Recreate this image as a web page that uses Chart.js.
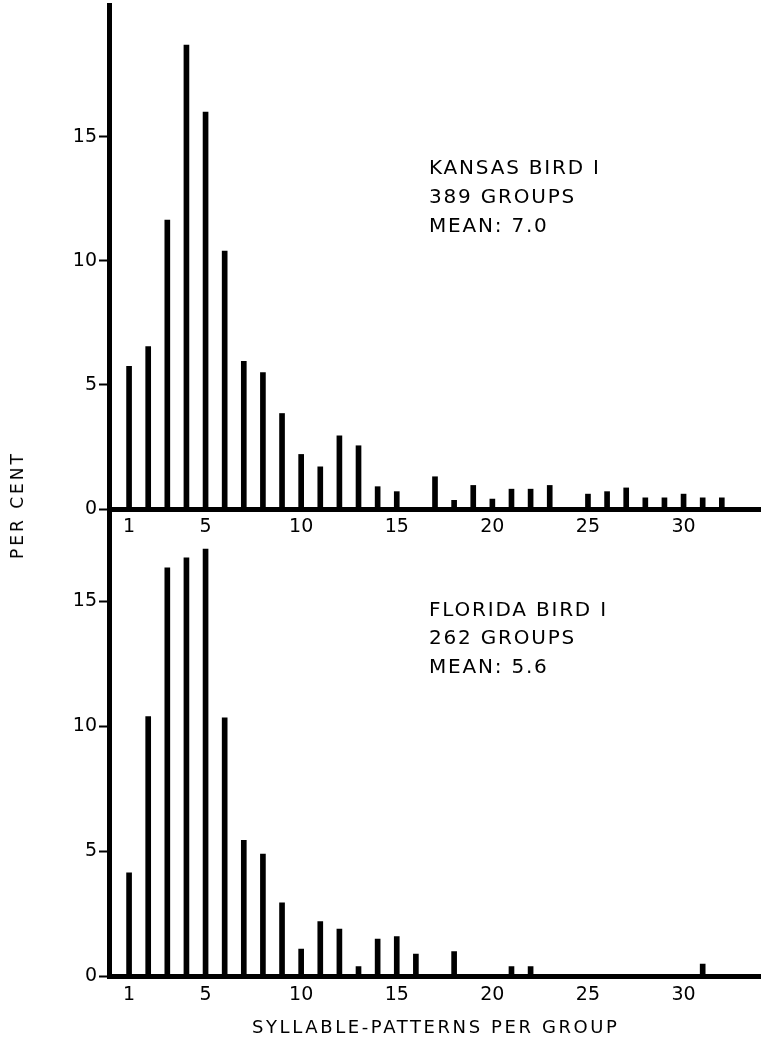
<!DOCTYPE html>
<html>
<head>
<meta charset="utf-8">
<script src="https://cdn.jsdelivr.net/npm/chart.js@4.4.0/dist/chart.umd.min.js"></script>
<style>
  html, body { margin: 0; padding: 0; background: #fff; }
  #wrap { position: relative; width: 761px; height: 1048px; overflow: hidden; }
  canvas { position: absolute; left: 0; }
  #top { top: 0; }
  #bottom { top: 510px; }
  .label { position: absolute; font-family: "DejaVu Sans"; font-size: 18px; line-height: 20px; letter-spacing: 2.6px; color: #000; white-space: nowrap; }
  #yTitle { left: 17px; top: 505px; font-size: 17px; letter-spacing: 3px; transform: translate(-50%, -50%) rotate(-90deg); }
  #xTitle { left: 252px; top: 1017px; }
</style>
</head>
<body>
<div id="wrap">
  <canvas id="top" width="761" height="545"></canvas>
  <canvas id="bottom" width="761" height="538"></canvas>
  <div class="label" id="yTitle">PER CENT</div>
  <div class="label" id="xTitle">SYLLABLE-PATTERNS PER GROUP</div>
</div>
<script>
// syllable-patterns per group (x) and per cent of groups (y)
const kansasPatterns = [1, 2, 3, 4, 5, 6, 7, 8, 9, 10, 11, 12, 13, 14, 15, 17, 18, 19, 20, 21, 22, 23, 25, 26, 27, 28, 29, 30, 31, 32];
const kansasPercent = [5.75, 6.55, 11.65, 18.7, 16.0, 10.4, 5.95, 5.5, 3.85, 2.2, 1.7, 2.95, 2.55, 0.9, 0.7, 1.3, 0.35, 0.95, 0.4, 0.8, 0.8, 0.95, 0.6, 0.7, 0.85, 0.45, 0.45, 0.6, 0.45, 0.45];

const floridaPatterns = [1, 2, 3, 4, 5, 6, 7, 8, 9, 10, 11, 12, 13, 14, 15, 16, 18, 21, 22, 31];
const floridaPercent = [4.15, 10.4, 16.35, 16.75, 17.1, 10.35, 5.45, 4.9, 2.95, 1.1, 2.2, 1.9, 0.4, 1.5, 1.6, 0.9, 1.0, 0.4, 0.4, 0.5];

const xTickValues = [1, 5, 10, 15, 20, 25, 30];
const yTickValues = [0, 5, 10, 15];

const kansasNote = ["KANSAS BIRD I", "389 GROUPS", "MEAN: 7.0"];
const floridaNote = ["FLORIDA BIRD I", "262 GROUPS", "MEAN: 5.6"];

const FONT = { family: "DejaVu Sans", size: 19 };

const notesPlugin = {
  id: "notes",
  afterDraw(chart, args, o) {
    const ctx = chart.ctx;
    ctx.save();
    ctx.font = "20px 'DejaVu Sans'";
    ctx.letterSpacing = "1.8px";
    ctx.fillStyle = "#000";
    ctx.textBaseline = "middle";
    o.lines.forEach((t, i) => ctx.fillText(t, o.x, o.y + i * o.gap));
    ctx.restore();
  },
};

function noPadding(s) {
  s.paddingTop = 0;
  s.paddingBottom = 0;
  s.paddingLeft = 0;
  s.paddingRight = 0;
}

function makeChart(canvas, xs, ys, opts) {
  return new Chart(canvas, {
    type: "bar",
    data: {
      datasets: [
        {
          data: xs.map((x, i) => ({ x: x, y: ys[i] })),
          backgroundColor: "#000",
          barThickness: 5,
        },
      ],
    },
    options: {
      responsive: false,
      animation: false,
      layout: { padding: { top: opts.padTop, right: 0, left: 0, bottom: 0 } },
      plugins: {
        legend: { display: false },
        tooltip: { enabled: false },
        notes: { lines: opts.lines, x: 429, y: opts.noteY, gap: opts.noteGap },
      },
      scales: {
        x: {
          type: "linear",
          min: -0.05,
          max: 34.05,
          offset: false,
          grid: { display: true, drawOnChartArea: false, drawTicks: false },
          border: { display: true, color: "#000", width: 5 },
          ticks: { font: FONT, color: "#000", padding: 7, autoSkip: false, maxRotation: 0 },
          afterBuildTicks: (s) => {
            s.ticks = xTickValues.map((v) => ({ value: v }));
          },
          afterFit: (s) => {
            s.height = opts.xHeight;
            noPadding(s);
          },
        },
        y: {
          min: 0,
          max: opts.yMax,
          grid: { drawOnChartArea: false, drawTicks: true, tickLength: 10, tickWidth: 2, tickColor: "#000" },
          border: { display: true, color: "#000", width: 5 },
          ticks: { font: FONT, color: "#000", padding: 2 },
          afterBuildTicks: (s) => {
            s.ticks = yTickValues.map((v) => ({ value: v }));
          },
          afterFit: (s) => {
            s.width = 109;
            noPadding(s);
          },
        },
      },
    },
    plugins: [notesPlugin],
  });
}

makeChart(document.getElementById("top"), kansasPatterns, kansasPercent, {
  padTop: 5,
  xHeight: 36,
  yMax: 20.32,
  lines: kansasNote,
  noteY: 169,
  noteGap: 29,
});

makeChart(document.getElementById("bottom"), floridaPatterns, floridaPercent, {
  padTop: 2,
  xHeight: 71.5,
  yMax: 18.58,
  lines: floridaNote,
  noteY: 100.5,
  noteGap: 28.5,
});
</script>
</body>
</html>
